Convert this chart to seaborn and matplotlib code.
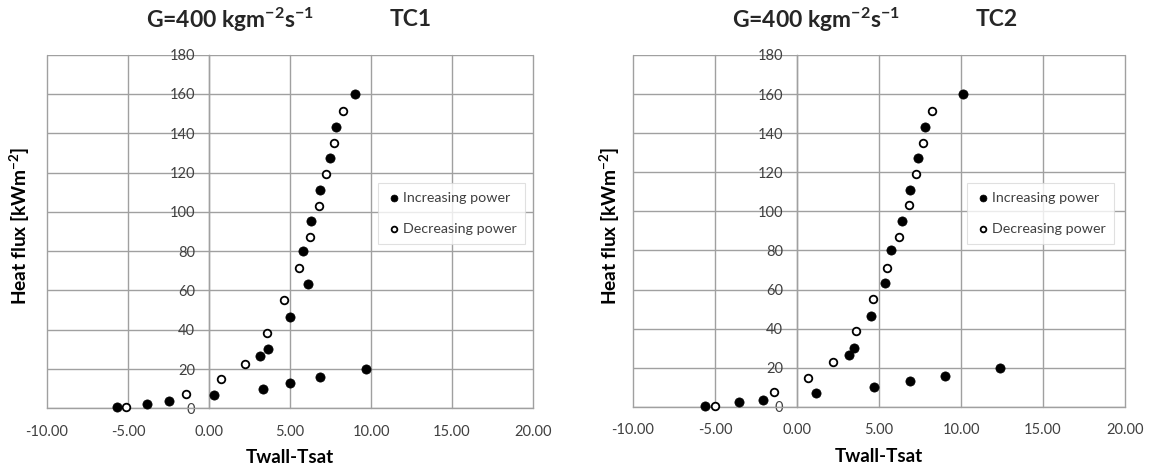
import matplotlib
matplotlib.use("Agg")
import matplotlib.pyplot as plt
import pandas as pd
import seaborn as sns
from matplotlib.ticker import FixedLocator, FuncFormatter

# Wall superheat (Twall - Tsat, K) and heat flux (kW/m^2) for each thermocouple
tc1_inc_dT = [-5.65, -3.8, -2.45, 0.3, 3.35, 5.0, 6.85, 9.7, 3.15, 3.65, 5.0, 6.1, 5.8, 6.3, 6.85, 7.45, 7.85, 9.0]
tc1_inc_q = [0.6, 2.2, 3.8, 6.8, 9.8, 13.0, 16.0, 19.8, 26.5, 30.4, 46.4, 63.4, 80.0, 95.3, 111.0, 127.4, 143.3, 160.1]
tc1_dec_dT = [8.25, 7.7, 7.25, 6.8, 6.25, 5.55, 4.65, 3.6, 2.25, 0.72, -1.4, -5.1]
tc1_dec_q = [151.5, 135.0, 119.1, 103.0, 87.2, 71.2, 54.9, 38.5, 22.6, 14.8, 7.5, 0.5]

tc2_inc_dT = [-5.6, -3.55, -2.05, 1.15, 4.7, 6.9, 9.05, 12.35, 3.15, 3.45, 4.5, 5.35, 5.75, 6.4, 6.9, 7.4, 7.8, 10.15]
tc2_inc_q = [0.6, 2.3, 3.6, 7.0, 10.0, 13.0, 16.0, 20.0, 26.6, 30.3, 46.6, 63.3, 80.0, 95.3, 111.0, 127.4, 143.3, 160.1]
tc2_dec_dT = [8.25, 7.7, 7.25, 6.8, 6.2, 5.5, 4.65, 3.6, 2.2, 0.7, -1.4, -5.0]
tc2_dec_q = [151.3, 135.0, 119.0, 103.0, 87.1, 71.0, 55.0, 39.0, 22.8, 14.8, 7.5, 0.4]

series_labels = ["Increasing power", "Decreasing power"]
panel_names = ["TC1", "TC2"]
mass_flux_text = r"G=400 kgm$^{\mathbf{-2}}$s$^{\mathbf{-1}}$"
x_label = "Twall-Tsat"
y_label = r"Heat flux [kWm$^{\mathbf{-2}}$]"
x_ticks = [-10, -5, 0, 5, 10, 15, 20]
y_ticks = [0, 20, 40, 60, 80, 100, 120, 140, 160, 180]

sns.set_theme(style="white")
plt.rcParams["font.family"] = ["Lato", "DejaVu Sans"]
plt.rcParams["mathtext.fontset"] = "custom"
plt.rcParams["mathtext.rm"] = "Lato"
plt.rcParams["mathtext.bf"] = "Lato:bold"
plt.rcParams["mathtext.it"] = "Lato:italic"

GRID = "#a0a0a0"
TXT = "#404040"


def make_frame(inc_dT, inc_q, dec_dT, dec_q):
    return pd.DataFrame({
        "dT": inc_dT + dec_dT,
        "q": inc_q + dec_q,
        "mode": [series_labels[0]] * len(inc_dT) + [series_labels[1]] * len(dec_dT),
    })


frames = [
    make_frame(tc1_inc_dT, tc1_inc_q, tc1_dec_dT, tc1_dec_q),
    make_frame(tc2_inc_dT, tc2_inc_q, tc2_dec_dT, tc2_dec_q),
]

W, H = 1153, 471
fig = plt.figure(figsize=(W / 100, H / 100), dpi=100)

# axes boxes in pixels: (left, top, right, bottom)
boxes = [(47, 54.7, 533, 408.3), (633, 55, 1125, 406.8)]
title_x = [(146, 390), (732, 976)]
legend_anchor = [(0.681, 0.637), (0.679, 0.636)]
ylabel_x = [-0.056, -0.047]

for i, df in enumerate(frames):
    l, t, r, b = boxes[i]
    ax = fig.add_axes([l / W, 1 - b / H, (r - l) / W, (b - t) / H])

    inc = df[df["mode"] == series_labels[0]]
    dec = df[df["mode"] == series_labels[1]]
    sns.scatterplot(data=inc, x="dT", y="q", ax=ax, color="black",
                    edgecolor="black", s=44, linewidth=0.5,
                    label=series_labels[0], zorder=4, clip_on=False)
    sns.scatterplot(data=dec, x="dT", y="q", ax=ax, color="white",
                    edgecolor="black", s=30, linewidth=1.3,
                    label=series_labels[1], zorder=4, clip_on=False)

    ax.set_xlim(-10, 20)
    ax.set_ylim(0, 180)
    ax.xaxis.set_major_locator(FixedLocator(x_ticks))
    ax.yaxis.set_major_locator(FixedLocator(y_ticks))
    ax.xaxis.set_major_formatter(FuncFormatter(lambda v, p: f"{v:.2f}"))
    ax.yaxis.set_major_formatter(FuncFormatter(lambda v, p: f"{v:.0f}"))

    ax.grid(True, color=GRID, linewidth=1.0)
    for gl in ax.get_xgridlines() + ax.get_ygridlines():
        gl.set_clip_on(False)
    ax.set_axisbelow(True)

    for side in ["top", "right"]:
        ax.spines[side].set_visible(False)
    ax.spines["left"].set_position(("data", 0))
    for side in ["left", "bottom"]:
        ax.spines[side].set_color(GRID)
        ax.spines[side].set_linewidth(1.0)

    ax.tick_params(axis="both", length=0, labelsize=10.5, labelcolor=TXT)
    ax.tick_params(axis="y", pad=10)
    ax.tick_params(axis="x", pad=12)

    ax.set_xlabel(x_label, fontsize=13.5, fontweight="bold", color="black")
    ax.xaxis.set_label_coords(0.5, -0.14)
    ax.xaxis.label.set_va("center")
    ax.set_ylabel(y_label, fontsize=13.8, fontweight="bold", color="black")
    ax.yaxis.set_label_coords(ylabel_x[i], 0.516)
    ax.yaxis.label.set_va("center")

    leg = ax.legend(loc="upper left", bbox_to_anchor=legend_anchor[i],
                    borderaxespad=0, frameon=True, fancybox=False,
                    fontsize=10.3, handletextpad=0.15, handlelength=1.0,
                    labelspacing=1.35, borderpad=0.6, markerscale=0.75)
    leg.get_frame().set_edgecolor("#d9d9d9")
    leg.get_frame().set_linewidth(0.8)
    for txt in leg.get_texts():
        txt.set_color(TXT)

    fig.text(title_x[i][0] / W, 1 - 20 / H, mass_flux_text, fontsize=16.5,
             fontweight="bold", ha="left", va="center")
    fig.text(title_x[i][1] / W, 1 - 20 / H, panel_names[i], fontsize=16.5,
             fontweight="bold", ha="left", va="center")

fig.savefig("out.png", dpi=100, facecolor="white")
